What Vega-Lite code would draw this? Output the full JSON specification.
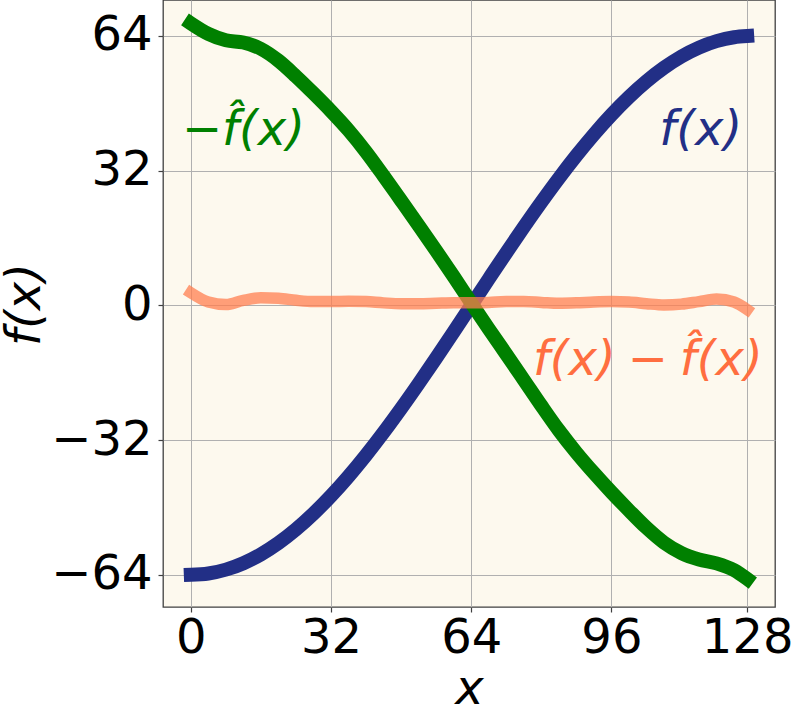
{
  "$schema": "https://vega.github.io/schema/vega-lite/v6.json",
  "width": 612,
  "height": 607,
  "autosize": {"type": "none"},
  "padding": {"left": 163, "top": 0, "right": 18, "bottom": 109},
  "background": "white",
  "config": {
    "view": {"fill": "#fdf9ee", "stroke": "#404040", "strokeWidth": 1.3},
    "axis": {
      "labelFont": "DejaVu Sans", "labelFontSize": 48, "labelColor": "black",
      "titleFont": "DejaVu Sans", "titleFontSize": 48, "titleFontStyle": "italic", "titleFontWeight": "normal", "titleColor": "black",
      "grid": true, "gridColor": "#b0b0b0", "gridWidth": 1,
      "domain": false, "tickColor": "#404040", "tickWidth": 1.2, "tickSize": 5
    }
  },
  "datasets": {
    "curves": [
      {"x": 0, "s": "f", "y": -64}, {"x": 4, "s": "f", "y": -63.69}, {"x": 8, "s": "f", "y": -62.77}, {"x": 12, "s": "f", "y": -61.24},
      {"x": 16, "s": "f", "y": -59.13}, {"x": 20, "s": "f", "y": -56.44}, {"x": 24, "s": "f", "y": -53.21}, {"x": 28, "s": "f", "y": -49.47},
      {"x": 32, "s": "f", "y": -45.25}, {"x": 36, "s": "f", "y": -40.6}, {"x": 40, "s": "f", "y": -35.56}, {"x": 44, "s": "f", "y": -30.17},
      {"x": 48, "s": "f", "y": -24.49}, {"x": 52, "s": "f", "y": -18.58}, {"x": 56, "s": "f", "y": -12.49}, {"x": 60, "s": "f", "y": -6.27},
      {"x": 64, "s": "f", "y": 0}, {"x": 68, "s": "f", "y": 6.27}, {"x": 72, "s": "f", "y": 12.49}, {"x": 76, "s": "f", "y": 18.58},
      {"x": 80, "s": "f", "y": 24.49}, {"x": 84, "s": "f", "y": 30.17}, {"x": 88, "s": "f", "y": 35.56}, {"x": 92, "s": "f", "y": 40.6},
      {"x": 96, "s": "f", "y": 45.25}, {"x": 100, "s": "f", "y": 49.47}, {"x": 104, "s": "f", "y": 53.21}, {"x": 108, "s": "f", "y": 56.44},
      {"x": 112, "s": "f", "y": 59.13}, {"x": 116, "s": "f", "y": 61.24}, {"x": 120, "s": "f", "y": 62.77}, {"x": 124, "s": "f", "y": 63.69},
      {"x": 127, "s": "f", "y": 63.98},

      {"x": 0, "s": "g", "y": 67.0}, {"x": 4, "s": "g", "y": 64.49}, {"x": 8, "s": "g", "y": 62.97}, {"x": 12, "s": "g", "y": 62.44},
      {"x": 16, "s": "g", "y": 60.93}, {"x": 20, "s": "g", "y": 58.14}, {"x": 24, "s": "g", "y": 54.41}, {"x": 28, "s": "g", "y": 50.37},
      {"x": 32, "s": "g", "y": 46.15}, {"x": 36, "s": "g", "y": 41.6}, {"x": 40, "s": "g", "y": 36.46}, {"x": 44, "s": "g", "y": 30.77},
      {"x": 48, "s": "g", "y": 24.89}, {"x": 52, "s": "g", "y": 18.98}, {"x": 56, "s": "g", "y": 12.99}, {"x": 60, "s": "g", "y": 6.87},
      {"x": 64, "s": "g", "y": 0.6}, {"x": 68, "s": "g", "y": -5.57}, {"x": 72, "s": "g", "y": -11.59}, {"x": 76, "s": "g", "y": -17.68},
      {"x": 80, "s": "g", "y": -23.79}, {"x": 84, "s": "g", "y": -29.67}, {"x": 88, "s": "g", "y": -34.96}, {"x": 92, "s": "g", "y": -39.8},
      {"x": 96, "s": "g", "y": -44.35}, {"x": 100, "s": "g", "y": -48.67}, {"x": 104, "s": "g", "y": -52.81}, {"x": 108, "s": "g", "y": -56.34},
      {"x": 112, "s": "g", "y": -58.83}, {"x": 116, "s": "g", "y": -60.34}, {"x": 120, "s": "g", "y": -61.27}, {"x": 124, "s": "g", "y": -62.89},
      {"x": 127, "s": "g", "y": -64.98},

      {"x": 0, "s": "d", "y": 3.0}, {"x": 4, "s": "d", "y": 0.8}, {"x": 8, "s": "d", "y": 0.2}, {"x": 12, "s": "d", "y": 1.2},
      {"x": 16, "s": "d", "y": 1.8}, {"x": 20, "s": "d", "y": 1.7}, {"x": 24, "s": "d", "y": 1.2}, {"x": 28, "s": "d", "y": 0.9},
      {"x": 32, "s": "d", "y": 0.9}, {"x": 36, "s": "d", "y": 1.0}, {"x": 40, "s": "d", "y": 0.9}, {"x": 44, "s": "d", "y": 0.6},
      {"x": 48, "s": "d", "y": 0.4}, {"x": 52, "s": "d", "y": 0.4}, {"x": 56, "s": "d", "y": 0.5}, {"x": 60, "s": "d", "y": 0.6},
      {"x": 64, "s": "d", "y": 0.6}, {"x": 68, "s": "d", "y": 0.7}, {"x": 72, "s": "d", "y": 0.9}, {"x": 76, "s": "d", "y": 0.9},
      {"x": 80, "s": "d", "y": 0.7}, {"x": 84, "s": "d", "y": 0.5}, {"x": 88, "s": "d", "y": 0.6}, {"x": 92, "s": "d", "y": 0.8},
      {"x": 96, "s": "d", "y": 0.9}, {"x": 100, "s": "d", "y": 0.8}, {"x": 104, "s": "d", "y": 0.4}, {"x": 108, "s": "d", "y": 0.1},
      {"x": 112, "s": "d", "y": 0.3}, {"x": 116, "s": "d", "y": 0.9}, {"x": 120, "s": "d", "y": 1.5}, {"x": 124, "s": "d", "y": 0.8},
      {"x": 127, "s": "d", "y": -1.0}
    ],
    "labels": [
      {"label": "f(x)", "s": "f"},
      {"label": "\u2212f\u0302(x)", "s": "g"},
      {"label": "f(x)\u2005\u2212\u2005f\u0302(x)", "s": "d"}
    ]
  },
  "layer": [
    {
      "data": {"name": "curves"},
      "transform": [{"filter": "datum.s == 'f'"}],
      "mark": {"type": "line", "color": "#222f86", "strokeWidth": 14, "strokeCap": "square", "interpolate": "monotone", "clip": true},
      "encoding": {
        "x": {
          "field": "x", "type": "quantitative",
          "scale": {"domain": [-6.35, 133.35], "nice": false, "zero": false},
          "axis": {"values": [0, 32, 64, 96, 127], "labelExpr": "datum.value == 127 ? '128' : datum.label", "labelPadding": 2,
                   "title": "x", "titleX": 306, "titleY": 96, "titleBaseline": "alphabetic"}
        },
        "y": {
          "field": "y", "type": "quantitative",
          "scale": {"domain": [-71.64, 72.54], "nice": false, "zero": false},
          "axis": {"values": [-64, -32, 0, 32, 64], "labelPadding": 6,
                   "title": "f(x)", "titleX": -124, "titleY": 304, "titleAngle": 270, "titleBaseline": "alphabetic", "titleAlign": "center"}
        }
      }
    },
    {
      "data": {"name": "curves"},
      "transform": [{"filter": "datum.s == 'g'"}],
      "mark": {"type": "line", "color": "#008000", "strokeWidth": 14, "strokeCap": "square", "interpolate": "monotone", "clip": true},
      "encoding": {"x": {"field": "x", "type": "quantitative"}, "y": {"field": "y", "type": "quantitative"}}
    },
    {
      "data": {"name": "curves"},
      "transform": [{"filter": "datum.s == 'd'"}],
      "mark": {"type": "line", "color": "#ff7f50", "opacity": 0.75, "strokeWidth": 11.5, "strokeCap": "square", "interpolate": "monotone", "clip": true},
      "encoding": {"x": {"field": "x", "type": "quantitative"}, "y": {"field": "y", "type": "quantitative"}}
    },
    {
      "data": {"name": "labels"},
      "transform": [{"filter": "datum.s == 'f'"}],
      "mark": {"type": "text", "font": "DejaVu Sans", "fontStyle": "italic", "fontSize": 48, "align": "center", "baseline": "middle", "fill": "#222f86"},
      "encoding": {"x": {"datum": 116.4}, "y": {"datum": 41.4}, "text": {"field": "label", "type": "nominal"}}
    },
    {
      "data": {"name": "labels"},
      "transform": [{"filter": "datum.s == 'g'"}],
      "mark": {"type": "text", "font": "DejaVu Sans", "fontStyle": "italic", "fontSize": 48, "align": "center", "baseline": "middle", "fill": "#008000"},
      "encoding": {"x": {"datum": 12.0}, "y": {"datum": 41.4}, "text": {"field": "label", "type": "nominal"}}
    },
    {
      "data": {"name": "labels"},
      "transform": [{"filter": "datum.s == 'd'"}],
      "mark": {"type": "text", "font": "DejaVu Sans", "fontStyle": "italic", "fontSize": 48, "align": "center", "baseline": "middle", "fill": "#ff6e40"},
      "encoding": {"x": {"datum": 104.3}, "y": {"datum": -13.2}, "text": {"field": "label", "type": "nominal"}}
    }
  ]
}
